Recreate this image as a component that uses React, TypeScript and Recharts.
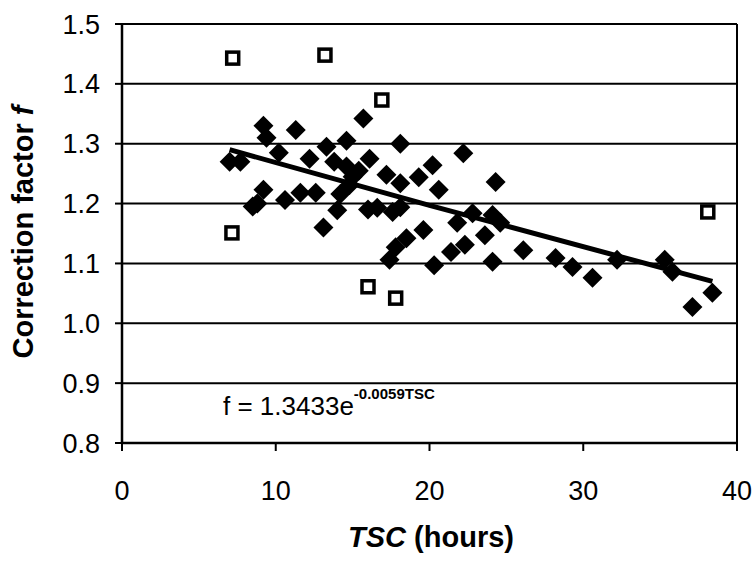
import React from "react";
import { ScatterChart, Scatter, XAxis, YAxis, CartesianGrid, ReferenceLine } from "recharts";

// Filled diamonds (measured points)
const diamondTSC = [
  7.0, 7.7, 9.2, 9.4, 10.2, 11.3, 12.2, 13.3, 14.6, 15.7,
  13.8, 14.6, 16.1, 15.0, 17.2, 18.1, 18.1, 19.3, 20.2, 20.6,
  22.2, 24.3, 8.8, 9.2, 10.6, 11.6, 12.6, 14.2, 14.8, 14.0,
  13.1, 16.6, 17.6, 17.4, 17.8, 18.5, 19.6, 20.3, 21.4, 22.3,
  21.8, 22.8, 23.6, 24.1, 24.1, 26.1, 28.2, 29.3, 30.6, 32.2,
  35.3, 35.8, 37.1, 38.4, 8.5, 15.4, 16.0, 18.1, 24.6,
];
const diamondF = [
  1.27, 1.27, 1.33, 1.31, 1.285, 1.323, 1.275, 1.295, 1.305, 1.342,
  1.27, 1.262, 1.275, 1.245, 1.248, 1.30, 1.234, 1.244, 1.264, 1.223,
  1.284, 1.236, 1.20, 1.223, 1.206, 1.218, 1.218, 1.216, 1.231, 1.189,
  1.16, 1.193, 1.186, 1.106, 1.127, 1.142, 1.156, 1.097, 1.119, 1.131,
  1.168, 1.184, 1.147, 1.181, 1.103, 1.122, 1.109, 1.094, 1.076, 1.106,
  1.106, 1.086, 1.027, 1.051, 1.195, 1.255, 1.19, 1.194, 1.168,
];

// Open squares (outliers)
const squareTSC = [7.2, 13.2, 16.9, 7.15, 16.0, 17.8, 38.1];
const squareF = [1.443, 1.448, 1.373, 1.151, 1.061, 1.042, 1.186];

// Exponential trend line
const trendTSC = [7.0, 20.0, 38.4];
const trendF = [1.29, 1.197, 1.07];

const xTicks = [0, 10, 20, 30, 40];
const yTicks = [0.8, 0.9, 1.0, 1.1, 1.2, 1.3, 1.4, 1.5];

const diamonds = diamondTSC.map((x, i) => ({ x, y: diamondF[i] }));
const squares = squareTSC.map((x, i) => ({ x, y: squareF[i] }));
const trend = trendTSC.map((x, i) => ({ x, y: trendF[i] }));

const FONT = '"Liberation Sans", Arial, Helvetica, sans-serif';

const Diamond = (props: any) => {
  const { cx, cy } = props;
  if (cx == null || cy == null) return <g />;
  const r = 10;
  return (
    <polygon
      points={`${cx},${cy - r} ${cx + r},${cy} ${cx},${cy + r} ${cx - r},${cy}`}
      fill="#000"
    />
  );
};

const Square = (props: any) => {
  const { cx, cy } = props;
  if (cx == null || cy == null) return <g />;
  return (
    <rect x={cx - 6} y={cy - 6} width={12} height={12} fill="#fff" stroke="#000" strokeWidth={3.5} />
  );
};

const NoDot = () => <g />;

const xTitle = () => (
  <text x={431} y={547} textAnchor="middle" fontFamily={FONT} fontSize={29} fontWeight="bold" fill="#000">
    <tspan fontStyle="italic">TSC</tspan>
    <tspan> (hours)</tspan>
  </text>
);

const yTitle = () => (
  <text
    x={33}
    y={232}
    transform="rotate(-90 33 232)"
    textAnchor="middle"
    fontFamily={FONT}
    fontSize={29}
    fontWeight="bold"
    fill="#000"
  >
    <tspan>Correction factor </tspan>
    <tspan fontStyle="italic">f</tspan>
  </text>
);

export default function App() {
  return (
    <div style={{ position: "absolute", left: 0, top: 0, width: 755, height: 562, background: "#fff" }}>
      <ScatterChart width={755} height={562} margin={{ top: 24, right: 18, bottom: 59, left: 0 }}>
        <CartesianGrid vertical={false} stroke="#000" strokeWidth={2} />
        <XAxis
          type="number"
          dataKey="x"
          domain={[0, 40]}
          ticks={xTicks}
          interval={0}
          allowDataOverflow
          height={60}
          tickSize={8}
          tickMargin={30}
          axisLine={{ stroke: "#000", strokeWidth: 2.5 }}
          tickLine={{ stroke: "#000", strokeWidth: 2 }}
          tick={{ fill: "#000", fontSize: 27, fontFamily: FONT }}
          label={xTitle}
        />
        <YAxis
          type="number"
          dataKey="y"
          domain={[0.8, 1.5]}
          ticks={yTicks}
          interval={0}
          allowDataOverflow
          width={122}
          tickSize={7}
          tickMargin={15}
          tickFormatter={(v: number) => v.toFixed(1)}
          axisLine={{ stroke: "#000", strokeWidth: 2.5 }}
          tickLine={{ stroke: "#000", strokeWidth: 2 }}
          tick={{ fill: "#000", fontSize: 27, fontFamily: FONT }}
          label={yTitle}
        />
        <ReferenceLine x={40} stroke="#000" strokeWidth={2} />
        <Scatter data={diamonds} shape={Diamond} isAnimationActive={false} />
        <Scatter
          data={trend}
          shape={NoDot}
          line={{ stroke: "#000", strokeWidth: 5 }}
          isAnimationActive={false}
        />
        <Scatter data={squares} shape={Square} isAnimationActive={false} />
      </ScatterChart>
      <svg
        width={755}
        height={562}
        style={{ position: "absolute", left: 0, top: 0, pointerEvents: "none" }}
      >
        <text x={223} y={415} fontFamily={FONT} fontSize={26} fill="#000">
          <tspan>f = 1.3433e</tspan>
          <tspan fontSize={15} fontWeight="bold" dy={-16}>-0.0059TSC</tspan>
        </text>
      </svg>
    </div>
  );
}
